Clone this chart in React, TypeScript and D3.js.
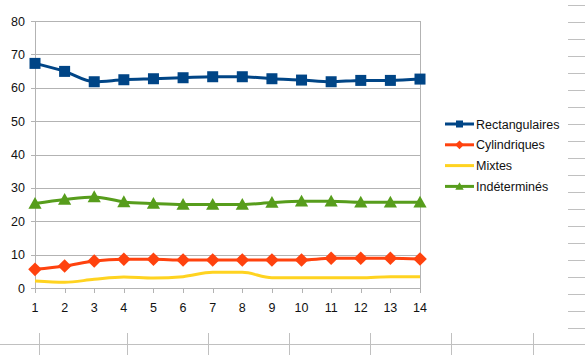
import { useEffect, useRef } from "react";
import * as d3 from "d3";

const xValues = [1, 2, 3, 4, 5, 6, 7, 8, 9, 10, 11, 12, 13, 14];
const yTicks = [0, 10, 20, 30, 40, 50, 60, 70, 80];

const rectangulaires = [67.3, 64.9, 61.8, 62.4, 62.7, 63.0, 63.3, 63.3, 62.7, 62.3, 61.8, 62.2, 62.2, 62.6];
const cylindriques = [5.6, 6.6, 8.1, 8.6, 8.6, 8.4, 8.4, 8.4, 8.4, 8.4, 8.9, 8.9, 8.9, 8.7];
const mixtes = [2.1, 1.7, 2.6, 3.3, 3.0, 3.4, 4.7, 4.7, 3.1, 3.1, 3.1, 3.1, 3.4, 3.4];
const indetermines = [25.3, 26.5, 27.3, 25.8, 25.3, 25.0, 25.0, 25.0, 25.6, 26.0, 26.0, 25.7, 25.7, 25.7];

const seriesNames = ["Rectangulaires", "Cylindriques", "Mixtes", "Indéterminés"];
const seriesColors = ["#004586", "#ff420e", "#ffd320", "#579d1c"];
const seriesMarkers = ["square", "diamond", "none", "triangle"];
const seriesValues = [rectangulaires, cylindriques, mixtes, indetermines];

// spreadsheet cell borders peeking around the chart
const sheetColsX = [39, 127, 208, 289, 370, 451, 533];
const sheetRowsY = [5, 22, 39, 56, 73, 90, 107, 124, 141, 158, 175, 192, 209, 226, 243, 260, 277, 294, 311, 328];

const margin = { top: 21, left: 35, right: 165, bottom: 67 };
const W = 585;
const H = 355;

function drawMarker(g, type, cx, cy, size, color) {
  if (type === "square") {
    g.append("rect")
      .attr("x", cx - size / 2).attr("y", cy - size / 2)
      .attr("width", size).attr("height", size)
      .attr("fill", color);
  } else if (type === "diamond") {
    const r = size * 0.62;
    g.append("path")
      .attr("d", `M${cx},${cy - r}L${cx + r},${cy}L${cx},${cy + r}L${cx - r},${cy}Z`)
      .attr("fill", color);
  } else if (type === "triangle") {
    const r = size * 0.6;
    g.append("path")
      .attr("d", `M${cx},${cy - r}L${cx + r},${cy + r * 0.8}L${cx - r},${cy + r * 0.8}Z`)
      .attr("fill", color);
  }
}

export default function App() {
  const ref = useRef(null);

  useEffect(() => {
    const svg = d3.select(ref.current);
    svg.selectAll("*").remove();

    const x = d3.scaleLinear().domain([1, 14]).range([margin.left, W - margin.right]);
    const y = d3.scaleLinear().domain([0, 80]).range([H - margin.bottom, margin.top]);

    // sheet grid remnants
    const sheet = svg.append("g").attr("stroke", "#c0c0c0").attr("stroke-width", 1);
    sheet.append("line").attr("x1", 0).attr("x2", W).attr("y1", 344.5).attr("y2", 344.5);
    sheetColsX.forEach(cx => {
      sheet.append("line").attr("x1", cx + 0.5).attr("x2", cx + 0.5).attr("y1", 333).attr("y2", H);
    });
    sheetRowsY.forEach(ry => {
      sheet.append("line").attr("x1", 568).attr("x2", W).attr("y1", ry + 0.5).attr("y2", ry + 0.5);
    });

    // gridlines
    const grid = svg.append("g");
    yTicks.forEach(t => {
      grid.append("line")
        .attr("x1", x(1) - 4).attr("x2", x(14))
        .attr("y1", Math.round(y(t)) + 0.5).attr("y2", Math.round(y(t)) + 0.5)
        .attr("stroke", "#b3b3b3");
    });
    grid.append("line")
      .attr("x1", Math.round(x(1)) + 0.5).attr("x2", Math.round(x(1)) + 0.5)
      .attr("y1", y(80)).attr("y2", y(0) + 5)
      .attr("stroke", "#b3b3b3");
    grid.append("line")
      .attr("x1", Math.round(x(14)) + 0.5).attr("x2", Math.round(x(14)) + 0.5)
      .attr("y1", y(80)).attr("y2", y(0) + 5)
      .attr("stroke", "#b3b3b3");
    xValues.forEach(v => {
      grid.append("line")
        .attr("x1", Math.round(x(v)) + 0.5).attr("x2", Math.round(x(v)) + 0.5)
        .attr("y1", y(0)).attr("y2", y(0) + 5)
        .attr("stroke", "#b3b3b3");
    });

    // tick labels
    const labels = svg.append("g")
      .attr("font-family", "Liberation Sans, Arial, sans-serif")
      .attr("font-size", 12.5)
      .attr("fill", "#111");
    yTicks.forEach(t => {
      labels.append("text")
        .attr("x", 25).attr("y", y(t) + 4.5)
        .attr("text-anchor", "end")
        .text(t);
    });
    xValues.forEach(v => {
      labels.append("text")
        .attr("x", x(v)).attr("y", y(0) + 24)
        .attr("text-anchor", "middle")
        .text(v);
    });

    // series
    const line = d3.line()
      .x((d, i) => x(xValues[i]))
      .y(d => y(d))
      .curve(d3.curveMonotoneX);

    seriesValues.forEach((vals, si) => {
      const g = svg.append("g");
      g.append("path")
        .attr("d", line(vals))
        .attr("fill", "none")
        .attr("stroke", seriesColors[si])
        .attr("stroke-width", 3);
      vals.forEach((v, i) => {
        drawMarker(g, seriesMarkers[si], x(xValues[i]), y(v), 11, seriesColors[si]);
      });
    });

    // legend
    const legend = svg.append("g")
      .attr("font-family", "Liberation Sans, Arial, sans-serif")
      .attr("font-size", 12.5)
      .attr("fill", "#111");
    seriesNames.forEach((name, i) => {
      const ly = 124 + i * 20.8;
      legend.append("line")
        .attr("x1", 445).attr("x2", 474)
        .attr("y1", ly).attr("y2", ly)
        .attr("stroke", seriesColors[i]).attr("stroke-width", 3);
      drawMarker(legend, seriesMarkers[i], 459.5, ly, 7, seriesColors[i]);
      legend.append("text")
        .attr("x", 476).attr("y", ly + 4.5)
        .text(name);
    });
  }, []);

  return (
    <svg ref={ref} width={W} height={H}
      style={{ position: "absolute", left: 0, top: 0, background: "#fff" }} />
  );
}
